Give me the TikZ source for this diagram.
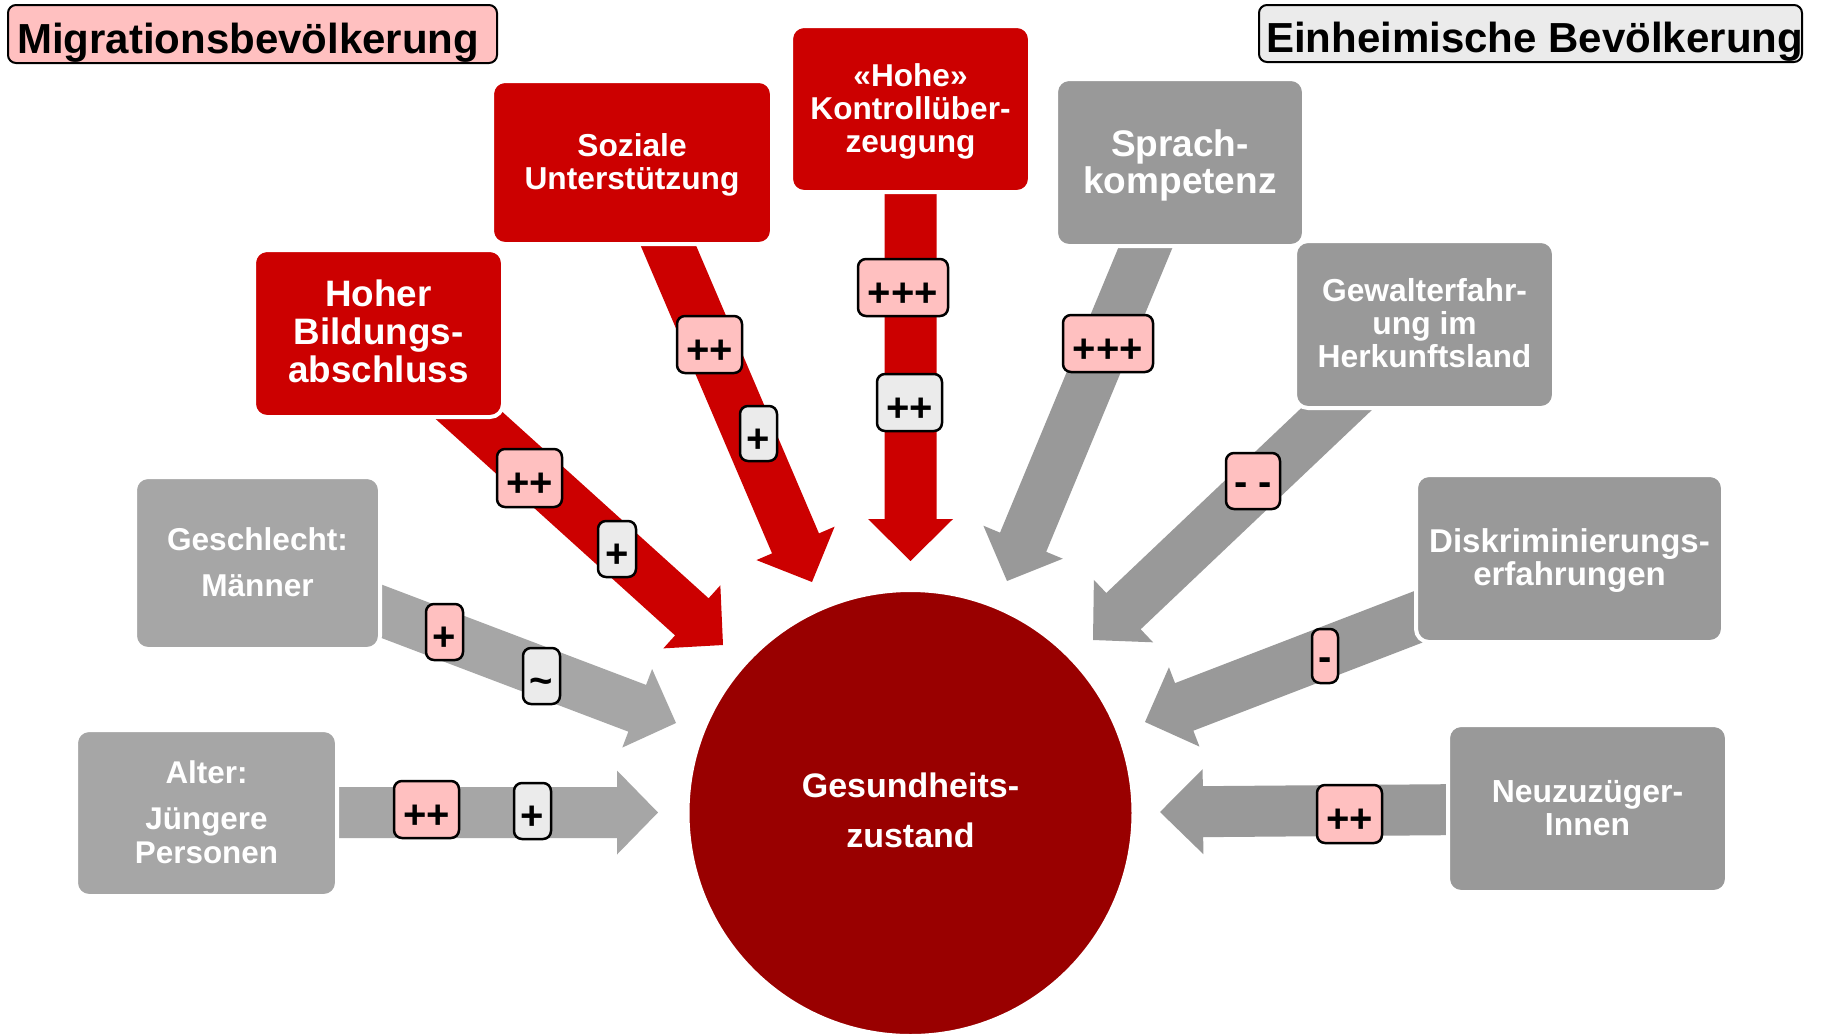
\documentclass[tikz,border=0pt]{standalone}
\usepackage{fontspec}
\setmainfont{Liberation Sans}
\usetikzlibrary{calc}
\definecolor{rd}{HTML}{CC0000}
\definecolor{dk}{HTML}{990000}
\definecolor{gl}{HTML}{A6A6A6}
\definecolor{gr}{HTML}{999999}
\definecolor{pk}{HTML}{FFC0C0}
\definecolor{lg}{HTML}{EBEBEB}
\newcommand\fs[2]{\fontsize{#1pt}{#2pt}\selectfont\bfseries}
\newcommand\ml[1]{\vtop{\let\\\cr\halign{\hfil##\hfil\cr#1\crcr}}}
% block arrow: color, tail, tip, half shaft, half head, head length
\newcommand\barrow[6]{%
  \coordinate (tmpB) at ($(#3)!#6pt!(#2)$);
  \fill[#1] ($(#2)!#4pt!90:(#3)$) -- ($(tmpB)!#4pt!-90:(#2)$) -- ($(tmpB)!#5pt!-90:(#2)$)
    -- (#3) -- ($(tmpB)!#5pt!90:(#2)$) -- ($(tmpB)!#4pt!90:(#2)$) -- ($(#2)!#4pt!-90:(#3)$) -- cycle;}
\begin{document}
\begin{tikzpicture}[x=1pt,y=-1pt,
  bx/.style={draw=white, line width=4pt, rounded corners=13pt, inner sep=0},
  wtxt/.style={text=white, inner sep=0, anchor=base},
  badge/.style={draw=black, line width=2.5pt, rounded corners=8pt, inner sep=0, font=\fs{40}{48}, text height=38pt, text depth=0.8pt},
  pinkb/.style={badge, fill=pk},
  grayb/.style={badge, fill=lg},
  title/.style={draw=black, line width=2pt, rounded corners=8pt, inner sep=0}]
\fill[white] (0,0) rectangle (1821,1034);
\useasboundingbox (0,0) rectangle (1821,1034);

% arrows
\coordinate (bildT) at (432,382);   \coordinate (bildP) at (723,645);
\coordinate (sozT) at (657,219);    \coordinate (sozP) at (812,582);
\coordinate (konT) at (910.5,175);  \coordinate (konP) at (910.5,561);
\coordinate (sprT) at (1154,227);   \coordinate (sprP) at (1007,581);
\coordinate (gewT) at (1363.5,383.5); \coordinate (gewP) at (1093,640);
\coordinate (disT) at (1436,610);   \coordinate (disP) at (1145,722);
\coordinate (neuT) at (1470,809.5); \coordinate (neuP) at (1160,812);
\coordinate (gesT) at (365,605);    \coordinate (gesP) at (676,723);
\coordinate (altT) at (320,812.5);  \coordinate (altP) at (658,812.5);
\barrow{rd}{bildT}{bildP}{25}{42.5}{42}
\barrow{rd}{sozT}{sozP}{25.5}{42.5}{42}
\barrow{rd}{konT}{konP}{26}{42.5}{42}
\barrow{gr}{sprT}{sprP}{25}{43}{42}
\barrow{gr}{gewT}{gewP}{25}{43}{42}
\barrow{gr}{disT}{disP}{25.5}{42.5}{42}
\barrow{gr}{neuT}{neuP}{25.5}{42.5}{43}
\barrow{gl}{gesT}{gesP}{25}{42}{41.5}
\barrow{gl}{altT}{altP}{25.5}{42}{41}

% boxes
\node[bx, fill=rd, minimum width=249pt, minimum height=167pt] (bild) at (378.5,333.5) {};
\node[bx, fill=rd, minimum width=280pt, minimum height=163pt] (soz) at (632,162.5) {};
\node[bx, fill=rd, minimum width=239pt, minimum height=166pt] (kon) at (910.5,109) {};
\node[bx, fill=gr, minimum width=248pt, minimum height=167pt] (spr) at (1180,162.5) {};
\node[bx, fill=gr, minimum width=259pt, minimum height=167pt] (gew) at (1424.5,324.5) {};
\node[bx, fill=gr, minimum width=307pt, minimum height=167pt] (dis) at (1569.5,558.5) {};
\node[bx, fill=gl, minimum width=245pt, minimum height=172pt] (ges) at (257.5,563) {};
\node[bx, fill=gl, minimum width=261pt, minimum height=166pt] (alt) at (206.5,813) {};
\node[bx, fill=gr, minimum width=279pt, minimum height=167pt] (neu) at (1587.5,808.5) {};
\node[circle, fill=dk, draw=white, line width=3pt, minimum size=445pt, inner sep=0] (zst) at (910.5,813) {};

% box texts
\node[wtxt, font=\fs{36.8}{38}] (bildx) at (378.5,306.5) {\ml{Hoher\\Bildungs-\\abschluss}};
\node[wtxt, font=\fs{31.7}{33}] (sozx) at (632,156) {\ml{Soziale\\Unterstützung}};
\node[wtxt, font=\fs{31.6}{33}] (konx) at (910.5,86) {\ml{«Hohe»\\Kontrollüber-\\zeugung}};
\node[wtxt, font=\fs{37}{37}] (sprx) at (1180,156) {\ml{Sprach-\\kompetenz}};
\node[wtxt, font=\fs{31.8}{33}] (gewx) at (1424.5,301) {\ml{Gewalterfahr-\\ung im\\Herkunftsland}};
\node[wtxt, font=\fs{33}{33}] (disx) at (1569.5,552) {\ml{Diskriminierungs-\\erfahrungen}};
\node[wtxt, font=\fs{31.6}{46}] (gesx) at (257.5,550) {\ml{Geschlecht:\\Männer}};
\node[wtxt, font=\fs{31.4}{34}] (altx) at (206.5,783) {\ml{Alter:\\\noalign{\vskip12pt}Jüngere\\Personen}};
\node[wtxt, font=\fs{31.9}{33}] (neux) at (1587.5,802) {\ml{Neuzuzüger-\\Innen}};
\node[wtxt, font=\fs{34}{50}] (zstx) at (910.5,797) {\ml{Gesundheits-\\zustand}};

% badges
\node[pinkb, minimum width=65pt, minimum height=58pt] (b1) at (529.5,478) {++};
\node[grayb, minimum width=38pt, minimum height=56pt] (b2) at (617,549) {+};
\node[pinkb, minimum width=65pt, minimum height=57pt] (s1) at (709.5,344.5) {++};
\node[grayb, minimum width=37pt, minimum height=55pt] (s2) at (758.5,433.5) {+};
\node[pinkb, minimum width=90pt, minimum height=57pt] (k1) at (903,287.5) {+++};
\node[grayb, minimum width=65pt, minimum height=57pt] (k2) at (909.5,402.5) {++};
\node[pinkb, minimum width=90pt, minimum height=57pt] (p1) at (1108,343.5) {+++};
\node[pinkb, minimum width=54pt, minimum height=56pt, text height=30pt, text depth=1pt] (g1) at (1253,481) {- -};
\node[pinkb, minimum width=26pt, minimum height=54pt, text height=30pt, text depth=1pt] (d1) at (1325,656) {-};
\node[pinkb, minimum width=65pt, minimum height=58pt] (n1) at (1349.5,814) {++};
\node[pinkb, minimum width=37pt, minimum height=56pt] (e1) at (444.5,632) {+};
\node[grayb, minimum width=37pt, minimum height=56pt, text height=37pt, text depth=1pt] (e2) at (541.5,676) {\textasciitilde};
\node[pinkb, minimum width=65pt, minimum height=57pt] (a1) at (426.5,809.5) {++};
\node[grayb, minimum width=37pt, minimum height=56pt] (a2) at (532.5,811) {+};

% titles
\node[title, fill=pk, minimum width=489pt, minimum height=58pt] (t1) at (252.5,34) {};
\node[title, fill=lg, minimum width=543pt, minimum height=57pt] (t2) at (1530.5,33.5) {};
\node[anchor=base west, inner sep=0, font=\fs{42}{50}] (t1x) at (17,53) {Migrationsbevölkerung};
\node[anchor=base west, inner sep=0, font=\fs{42}{50}] (t2x) at (1266,52) {Einheimische Bevölkerung};
\end{tikzpicture}
\end{document}
